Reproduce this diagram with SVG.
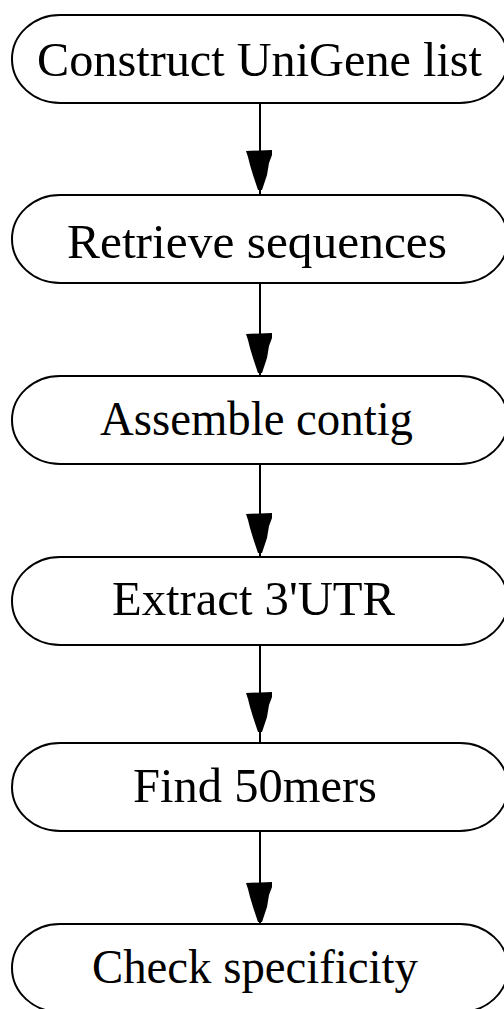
<svg xmlns="http://www.w3.org/2000/svg" xmlns:xlink="http://www.w3.org/1999/xlink" width="504" height="1009" viewBox="0 0 504 1009">
<style>
.box{fill:#fff;stroke:#000;stroke-width:2}
.lbl{font-family:"Liberation Serif","Times New Roman",serif;font-size:48px;fill:#000}
.edge{stroke:#000;stroke-width:2;fill:none}
.head{fill:#000;stroke:none}
</style>
<defs>
<path id="node" class="box" d="M60,0 H460 A48,44 0 0 1 460,88 H60 A48,44 0 0 1 60,0 Z"/>
<path id="ah" class="head" d="M-14,1 L12,0 L12,5 L9,13 L7,25 L4,34 L2,40 L-2,40 L-4,34 L-7,25 L-10,15 L-12,7 Z"/>
</defs>
<rect width="504" height="1009" fill="#fff"/>
<g id="connectors">
<path class="edge" d="M260,103 V195"/>
<use xlink:href="#ah" href="#ah" x="260" y="150"/>
<path class="edge" d="M260,283 V376"/>
<use xlink:href="#ah" href="#ah" x="260" y="333"/>
<path class="edge" d="M260,464 V557"/>
<use xlink:href="#ah" href="#ah" x="260" y="513"/>
<path class="edge" d="M260,645 V743"/>
<use xlink:href="#ah" href="#ah" x="260" y="692"/>
<path class="edge" d="M260,831 V924"/>
<use xlink:href="#ah" href="#ah" x="260" y="882"/>
</g>
<g id="n1">
<use xlink:href="#node" href="#node" y="15"/>
<text class="lbl" x="37" y="76" textLength="445" lengthAdjust="spacingAndGlyphs">Construct UniGene list</text>
</g>
<g id="n2">
<use xlink:href="#node" href="#node" y="195"/>
<text class="lbl" x="67" y="258" textLength="380" lengthAdjust="spacingAndGlyphs">Retrieve  sequences</text>
</g>
<g id="n3">
<use xlink:href="#node" href="#node" y="376"/>
<text class="lbl" x="100" y="435" textLength="313" lengthAdjust="spacingAndGlyphs">Assemble contig</text>
</g>
<g id="n4">
<use xlink:href="#node" href="#node" y="557"/>
<text class="lbl" x="112" y="615" textLength="283" lengthAdjust="spacingAndGlyphs">Extract 3'UTR</text>
</g>
<g id="n5">
<use xlink:href="#node" href="#node" y="743"/>
<text class="lbl" x="133" y="802" textLength="244" lengthAdjust="spacingAndGlyphs">Find 50mers</text>
</g>
<g id="n6">
<use xlink:href="#node" href="#node" y="924"/>
<text class="lbl" x="92" y="983" textLength="326" lengthAdjust="spacingAndGlyphs">Check specificity</text>
</g>
</svg>
